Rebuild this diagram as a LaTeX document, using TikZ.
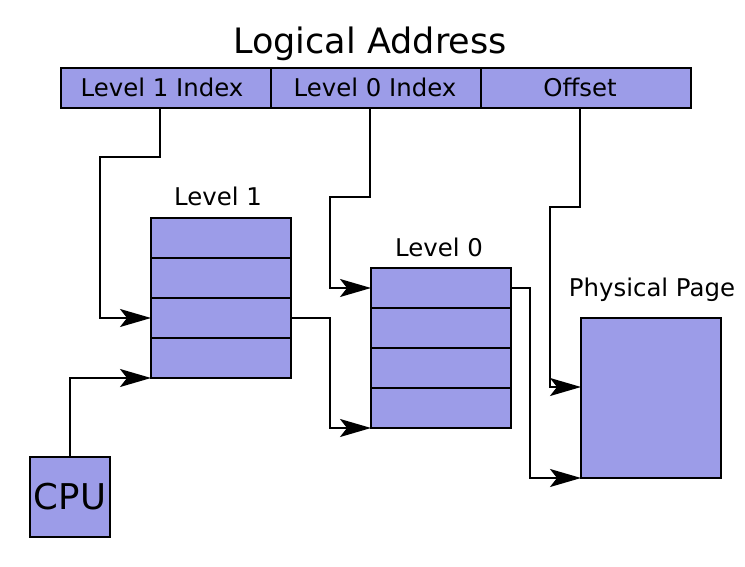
\documentclass[tikz,border=0pt]{standalone}
\usepackage{fontspec}
\setmainfont{DejaVu Sans}
\usetikzlibrary{arrows.meta}
\definecolor{pg}{RGB}{156,156,232}
\begin{document}
\begin{tikzpicture}[x=1pt,y=-1pt, line width=2pt,
  cell/.style={draw, fill=pg, minimum width=140pt, minimum height=40pt, inner sep=0pt, outer sep=0pt},
  fld/.style={draw, fill=pg, minimum width=210pt, minimum height=40pt, inner sep=0pt, outer sep=0pt},
  lbl/.style={inner sep=0pt, anchor=base, font=\fontsize{24.4}{29}\selectfont},
  arr/.style={-{Stealth[length=31pt,width=18pt,inset=7pt]}, line width=2pt}]
\useasboundingbox (0,0) rectangle (745,567);
% logical address
\node[lbl, font=\fontsize{35}{42}\selectfont] (title) at (370,54) {Logical Address};
\node[fld] (f1) at (166,88) {};
\node[fld] (f0) at (376,88) {};
\node[fld] (foff) at (586,88) {};
\node[lbl] (t1) at (162,96.5) {Level 1 Index};
\node[lbl] (t0) at (375,96.5) {Level 0 Index};
\node[lbl] (toff) at (580,96.5) {Offset};
% level 1
\node[lbl] (lab1) at (218,206) {Level 1};
\node[cell] (a1) at (221,238) {};
\node[cell] (a2) at (221,278) {};
\node[cell] (a3) at (221,318) {};
\node[cell] (a4) at (221,358) {};
% level 0
\node[lbl] (lab0) at (439,256) {Level 0};
\node[cell] (b1) at (441,288) {};
\node[cell] (b2) at (441,328) {};
\node[cell] (b3) at (441,368) {};
\node[cell] (b4) at (441,408) {};
% physical page
\node[lbl] (labp) at (652,296) {Physical Page};
\node[cell, minimum height=160pt] (phys) at (651,398) {};
% cpu
\node[cell, minimum width=80pt, minimum height=80pt, font=\fontsize{35.5}{42}\selectfont] (cpu) at (70,497) {CPU};
% connectors
\draw[arr] ([xshift=-6pt]f1.south) -- ++(0,49) -- ++(-60,0) |- (a3.west);
\draw[arr] ([xshift=-6pt]f0.south) -- ++(0,89) -- ++(-40,0) |- (b1.west);
\draw[arr] ([xshift=-6pt]foff.south) -- ++(0,99) -- ++(-30,0) |- ([yshift=11pt]phys.west);
\draw[arr] (a3.east) -- ++(39,0) |- (b4.south west);
\draw[arr] (b1.east) -- ++(19,0) |- (phys.south west);
\draw[arr] (cpu.north) |- (a4.south west);
\end{tikzpicture}
\end{document}
